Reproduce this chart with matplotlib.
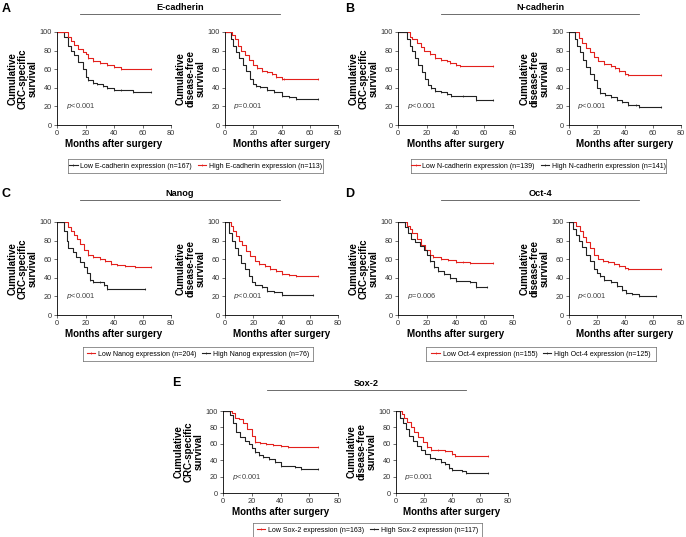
import matplotlib
matplotlib.use("Agg")
import matplotlib.pyplot as plt
import numpy as np

W, H = 686, 537
RED = "#e3201c"
BLACK = "#222222"

# ---- curve data (months, % surviving) ----
a_css_low_t = [0, 3, 5, 8, 10, 12, 15, 18, 20, 22, 25, 28, 32, 35, 40, 45, 53, 66]
a_css_low_s = [100, 100, 95, 85, 80, 75, 68, 60, 52, 48, 45, 44, 42, 40, 38, 38, 35, 35]
a_css_high_t = [0, 6, 8, 10, 12, 15, 18, 20, 22, 25, 30, 35, 40, 45, 66]
a_css_high_s = [100, 100, 95, 90, 86, 82, 78, 76, 72, 69, 67, 65, 62, 60, 60]
a_dfs_low_t = [0, 2, 4, 6, 8, 10, 13, 15, 18, 20, 22, 25, 30, 35, 40, 45, 50, 66]
a_dfs_low_s = [100, 100, 92, 85, 78, 72, 65, 58, 50, 44, 42, 41, 38, 35, 31, 30, 28, 28]
a_dfs_high_t = [0, 3, 5, 7, 9, 11, 14, 17, 20, 23, 26, 30, 33, 36, 40, 42, 66]
a_dfs_high_s = [100, 100, 97, 92, 85, 80, 75, 70, 65, 61, 58, 57, 55, 52, 50, 49, 49]

b_css_high_t = [0, 3, 6, 8, 10, 12, 14, 17, 19, 21, 23, 26, 30, 34, 37, 45, 54, 66]
b_css_high_s = [100, 100, 92, 85, 80, 72, 65, 57, 50, 43, 40, 37, 35, 33, 31, 31, 27, 27]
b_css_low_t = [0, 5, 8, 10, 13, 16, 18, 22, 26, 30, 34, 36, 40, 43, 66]
b_css_low_s = [100, 100, 95, 92, 88, 84, 80, 76, 72, 70, 69, 67, 65, 63, 63]
b_dfs_high_t = [0, 2, 4, 6, 8, 10, 12, 15, 18, 20, 22, 26, 30, 34, 38, 42, 48, 50, 66]
b_dfs_high_s = [100, 100, 93, 85, 78, 70, 62, 55, 48, 40, 34, 32, 30, 27, 25, 22, 21, 19, 19]
b_dfs_low_t = [0, 5, 7, 9, 12, 15, 18, 21, 25, 30, 33, 36, 40, 42, 66]
b_dfs_low_s = [100, 100, 94, 88, 83, 78, 73, 69, 66, 63, 61, 58, 55, 54, 54]

c_css_high_t = [0, 3, 5, 7, 8, 11, 13, 16, 19, 21, 23, 25, 30, 33, 35, 62]
c_css_high_s = [100, 100, 90, 80, 72, 68, 62, 57, 52, 45, 38, 36, 35, 32, 28, 28]
c_css_low_t = [0, 5, 8, 10, 12, 14, 16, 19, 22, 25, 30, 34, 38, 42, 48, 55, 66]
c_css_low_s = [100, 100, 95, 90, 86, 82, 76, 70, 65, 62, 60, 58, 55, 54, 53, 52, 52]
c_dfs_high_t = [0, 1, 3, 5, 7, 9, 11, 14, 17, 19, 21, 26, 30, 35, 40, 62]
c_dfs_high_s = [100, 100, 88, 80, 72, 65, 56, 50, 42, 36, 32, 30, 26, 25, 21, 21]
c_dfs_low_t = [0, 2, 4, 6, 8, 10, 12, 15, 18, 21, 24, 28, 32, 36, 40, 45, 50, 66]
c_dfs_low_s = [100, 100, 96, 90, 85, 80, 75, 69, 63, 58, 55, 53, 50, 47, 44, 43, 42, 42]

d_css_high_t = [0, 3, 5, 7, 9, 12, 15, 18, 20, 22, 25, 28, 32, 36, 40, 50, 54, 62]
d_css_high_s = [100, 100, 95, 88, 82, 78, 74, 70, 65, 58, 52, 47, 44, 40, 37, 35, 30, 30]
d_css_low_t = [0, 3, 6, 8, 10, 13, 16, 19, 22, 24, 30, 35, 40, 45, 50, 66]
d_css_low_s = [100, 100, 96, 92, 88, 82, 75, 70, 64, 62, 60, 59, 57, 57, 56, 56]
d_dfs_high_t = [0, 1, 3, 5, 7, 9, 12, 15, 18, 20, 22, 25, 30, 34, 38, 41, 45, 50, 62]
d_dfs_high_s = [100, 100, 93, 86, 80, 73, 65, 58, 50, 45, 42, 38, 35, 31, 27, 24, 23, 20, 20]
d_dfs_low_t = [0, 2, 5, 8, 10, 12, 15, 18, 21, 24, 28, 32, 36, 40, 42, 66]
d_dfs_low_s = [100, 100, 96, 90, 84, 78, 72, 65, 60, 58, 57, 55, 53, 51, 50, 50]

e_css_high_t = [0, 3, 5, 7, 9, 12, 15, 18, 20, 22, 25, 28, 32, 36, 40, 50, 54, 66]
e_css_high_s = [100, 100, 95, 85, 75, 68, 63, 60, 55, 50, 46, 44, 42, 38, 33, 32, 29, 29]
e_css_low_t = [0, 3, 6, 8, 11, 14, 17, 20, 22, 26, 30, 35, 40, 45, 66]
e_css_low_s = [100, 100, 97, 92, 90, 85, 78, 70, 62, 61, 60, 59, 57, 56, 56]
e_dfs_high_t = [0, 1, 3, 5, 7, 9, 12, 15, 18, 21, 24, 28, 32, 35, 38, 40, 47, 50, 66]
e_dfs_high_s = [100, 100, 92, 85, 78, 70, 63, 57, 52, 47, 43, 41, 38, 35, 30, 28, 27, 25, 25]
e_dfs_low_t = [0, 2, 4, 6, 8, 11, 13, 16, 19, 22, 25, 30, 35, 40, 42, 66]
e_dfs_low_s = [100, 100, 96, 92, 87, 80, 74, 68, 62, 56, 53, 52, 51, 48, 45, 45]

markers = ["E-cadherin", "N-cadherin", "Nanog", "Oct-4", "Sox-2"]
legend_labels = [
    ("Low E-cadherin expression (n=167)", "High E-cadherin expression (n=113)"),
    ("Low N-cadherin expression (n=139)", "High N-cadherin expression (n=141)"),
    ("Low Nanog expression (n=204)", "High Nanog expression (n=76)"),
    ("Low Oct-4 expression (n=155)", "High Oct-4 expression (n=125)"),
    ("Low Sox-2 expression (n=163)", "High Sox-2 expression (n=117)"),
]
p_css = ["<0.001", "<0.001", "<0.001", "=0.006", "<0.001"]
p_dfs = ["=0.001", "<0.001", "<0.001", "<0.001", "=0.001"]

# colour of the "low" group per panel (A is black-low, others red-low)
low_colors = [BLACK, RED, RED, RED, RED]

curves = [
    ((a_css_low_t, a_css_low_s, a_css_high_t, a_css_high_s),
     (a_dfs_low_t, a_dfs_low_s, a_dfs_high_t, a_dfs_high_s)),
    ((b_css_low_t, b_css_low_s, b_css_high_t, b_css_high_s),
     (b_dfs_low_t, b_dfs_low_s, b_dfs_high_t, b_dfs_high_s)),
    ((c_css_low_t, c_css_low_s, c_css_high_t, c_css_high_s),
     (c_dfs_low_t, c_dfs_low_s, c_dfs_high_t, c_dfs_high_s)),
    ((d_css_low_t, d_css_low_s, d_css_high_t, d_css_high_s),
     (d_dfs_low_t, d_dfs_low_s, d_dfs_high_t, d_dfs_high_s)),
    ((e_css_low_t, e_css_low_s, e_css_high_t, e_css_high_s),
     (e_dfs_low_t, e_dfs_low_s, e_dfs_high_t, e_dfs_high_s)),
]

# ---- layout in pixels ----
# (letter x, letter y, left axes x0,x1, right axes x0,x1, axes top, bottom,
#  title line x0,x1, title y, line y, legend x0,x1, legend y)
layout = [
    (2, 9, 57, 171, 225, 338, 32, 125, 80, 280, 8, 14, 68, 323, 166),
    (345, 9, 398, 513, 569, 681, 32, 125, 441, 639, 8, 14, 411, 666, 166),
    (2, 194, 57, 171, 225, 338, 222, 315, 80, 280, 193, 200, 83, 313, 354),
    (345, 194, 398, 513, 569, 681, 222, 315, 441, 639, 193, 200, 426, 656, 354),
    (172, 383, 223, 338, 396, 508, 411, 493, 267, 466, 384, 390, 253, 482, 530),
]

fig = plt.figure(figsize=(W / 100, H / 100), dpi=100)
plt.rcParams["font.family"] = "Liberation Sans"


def fx(x):
    return x / W


def fy(y):
    return 1 - y / H


def km(ax, t, s, color):
    ax.step(t, s, where="post", color=color, lw=0.8)
    t = np.array(t)
    s = np.array(s)
    mask = t >= 22
    ax.plot(t[mask], s[mask], ls="none", marker="|", ms=2, mew=0.5, color=color)


for i, lay in enumerate(layout):
    (lx, ly, l0, l1, r0, r1, top, bot, t0, t1, ty, liney, g0, g1, gy) = lay
    letters = "ABCDE"
    fig.text(fx(lx), fy(ly), letters[i], fontsize=9, fontweight="bold", va="center")
    fig.text(fx((t0 + t1) / 2), fy(ty), markers[i], fontsize=6.6, fontweight="bold",
             ha="center", va="center")
    fig.add_artist(plt.Line2D([fx(t0), fx(t1)], [fy(liney), fy(liney)],
                              color="#555555", lw=0.6))

    ylabels = ["Cumulative\nCRC-specific\nsurvival", "Cumulative\ndisease-free\nsurvival"]
    pvals = [p_css[i], p_dfs[i]]
    for j, (x0, x1) in enumerate([(l0, l1), (r0, r1)]):
        ax = fig.add_axes([fx(x0), fy(bot), (x1 - x0) / W, (bot - top) / H])
        lt, ls_, ht, hs = curves[i][j]
        high_color = RED if low_colors[i] == BLACK else BLACK
        km(ax, lt, ls_, low_colors[i])
        km(ax, ht, hs, high_color)
        ax.set_xlim(0, 80)
        ax.set_ylim(0, 100)
        ax.set_xticks([0, 20, 40, 60, 80])
        ax.set_yticks([0, 20, 40, 60, 80, 100])
        ax.tick_params(labelsize=5.3, length=2, width=0.5, pad=1.5, colors="#333333")
        for side in ["top", "right"]:
            ax.spines[side].set_visible(False)
        for side in ["left", "bottom"]:
            ax.spines[side].set_linewidth(0.6)
        ax.set_xlabel("Months after surgery", fontsize=7, fontweight="bold", labelpad=1.5)
        ax.set_ylabel(ylabels[j], fontsize=7, fontweight="bold", labelpad=1.5,
                      linespacing=1.0)
        ax.text(6, 20, "$p$" + pvals[j], fontsize=5.3, color="#444444", va="center")

    # legend
    lax = fig.add_axes([fx(g0), fy(gy + 7), (g1 - g0) / W, 14 / H])
    lax.set_xticks([])
    lax.set_yticks([])
    for sp in lax.spines.values():
        sp.set_linewidth(0.5)
        sp.set_color("#666666")
    high_color = RED if low_colors[i] == BLACK else BLACK
    h1, = lax.plot([], [], color=low_colors[i], lw=0.8, marker="|", ms=2, mew=0.5)
    h2, = lax.plot([], [], color=high_color, lw=0.8, marker="|", ms=2, mew=0.5)
    lax.legend([h1, h2], list(legend_labels[i]), loc="center", ncol=2, frameon=False,
               fontsize=5.0, handlelength=1.2, handletextpad=0.4, columnspacing=0.8,
               borderpad=0)

fig.savefig("out.png", dpi=100)
